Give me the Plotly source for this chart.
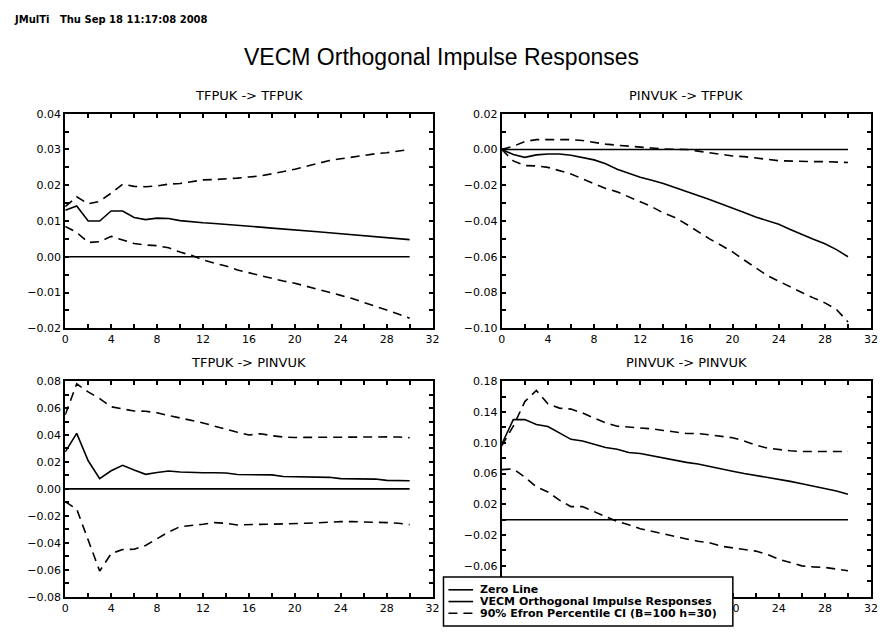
import plotly.graph_objects as go

# Forecast horizons
horizon = list(range(31))

# TFPUK -> TFPUK
tt_irf = [0.0130, 0.0142, 0.0100, 0.0100, 0.0128, 0.0128, 0.0110, 0.0104, 0.0108, 0.0107,
          0.0101, 0.0097, 0.0095, 0.0093, 0.0091, 0.0089, 0.0086, 0.0083, 0.0080, 0.0078,
          0.0075, 0.0072, 0.0070, 0.0067, 0.0064, 0.0061, 0.0059, 0.0056, 0.0054, 0.0051, 0.0048]
tt_upper = [0.0140, 0.0168, 0.0148, 0.0155, 0.0178, 0.0203, 0.0197, 0.0196, 0.0198, 0.0203,
            0.0205, 0.0210, 0.0215, 0.0216, 0.0217, 0.0220, 0.0223, 0.0226, 0.0232, 0.0238,
            0.0245, 0.0253, 0.0262, 0.0269, 0.0274, 0.0279, 0.0284, 0.0288, 0.0291, 0.0295, 0.0300]
tt_lower = [0.0085, 0.0068, 0.0040, 0.0042, 0.0057, 0.0046, 0.0037, 0.0033, 0.0031, 0.0025,
            0.0013, 0.0004, -0.0009, -0.0018, -0.0026, -0.0037, -0.0045, -0.0053, -0.0062, -0.0068,
            -0.0074, -0.0082, -0.0090, -0.0100, -0.0108, -0.0117, -0.0127, -0.0138, -0.0149, -0.0160, -0.0172]

# PINVUK -> TFPUK
pt_irf = [0.0, -0.0028, -0.0044, -0.0030, -0.0025, -0.0025, -0.0032, -0.0045, -0.0058, -0.0080,
          -0.0110, -0.0133, -0.0155, -0.0172, -0.0190, -0.0213, -0.0237, -0.0258, -0.0280, -0.0303,
          -0.0327, -0.0353, -0.0378, -0.0398, -0.0418, -0.0447, -0.0476, -0.0502, -0.0527, -0.0560, -0.0600]
pt_upper = [0.0, 0.0018, 0.0045, 0.0055, 0.0055, 0.0055, 0.0055, 0.0050, 0.0038, 0.0030,
            0.0024, 0.0018, 0.0010, 0.0008, 0.0003, 0.0000, 0.0000, -0.0009, -0.0018, -0.0028,
            -0.0036, -0.0040, -0.0046, -0.0055, -0.0063, -0.0066, -0.0068, -0.0068, -0.0068, -0.0070, -0.0073]
pt_lower = [0.0, -0.0064, -0.0090, -0.0092, -0.0100, -0.0118, -0.0137, -0.0164, -0.0190, -0.0218,
            -0.0237, -0.0265, -0.0290, -0.0320, -0.0355, -0.0380, -0.0418, -0.0460, -0.0500, -0.0536,
            -0.0573, -0.0618, -0.0660, -0.0705, -0.0737, -0.0770, -0.0800, -0.0830, -0.0858, -0.0895, -0.0965]

# TFPUK -> PINVUK
tp_irf = [0.0275, 0.0412, 0.0209, 0.0076, 0.0135, 0.0175, 0.0140, 0.0108, 0.0122, 0.0133,
          0.0125, 0.0121, 0.0120, 0.0120, 0.0118, 0.0107, 0.0106, 0.0105, 0.0104, 0.0092,
          0.0091, 0.0090, 0.0089, 0.0086, 0.0076, 0.0075, 0.0074, 0.0073, 0.0063, 0.0062, 0.0061]
tp_upper = [0.0550, 0.0780, 0.0720, 0.0670, 0.0610, 0.0592, 0.0578, 0.0577, 0.0565, 0.0545,
            0.0528, 0.0508, 0.0490, 0.0466, 0.0442, 0.0420, 0.0400, 0.0410, 0.0395, 0.0385,
            0.0382, 0.0383, 0.0384, 0.0385, 0.0386, 0.0386, 0.0386, 0.0386, 0.0386, 0.0385, 0.0380]
tp_lower = [-0.0095, -0.0150, -0.0380, -0.0610, -0.0480, -0.0450, -0.0448, -0.0420, -0.0370, -0.0320,
            -0.0280, -0.0272, -0.0262, -0.0250, -0.0255, -0.0268, -0.0264, -0.0263, -0.0262, -0.0261,
            -0.0258, -0.0255, -0.0252, -0.0245, -0.0243, -0.0243, -0.0244, -0.0245, -0.0250, -0.0255, -0.0265]

# PINVUK -> PINVUK
pp_irf = [0.0980, 0.1300, 0.1300, 0.1236, 0.1210, 0.1130, 0.1044, 0.1023, 0.0980, 0.0937,
          0.0916, 0.0873, 0.0860, 0.0830, 0.0797, 0.0767, 0.0745, 0.0724, 0.0690, 0.0660,
          0.0630, 0.0600, 0.0575, 0.0553, 0.0523, 0.0498, 0.0468, 0.0438, 0.0404, 0.0374, 0.0331]
pp_upper = [0.0960, 0.1215, 0.1535, 0.1680, 0.1505, 0.1450, 0.1437, 0.1386, 0.1320, 0.1258,
            0.1215, 0.1206, 0.1194, 0.1180, 0.1160, 0.1138, 0.1120, 0.1120, 0.1100, 0.1078,
            0.1065, 0.1023, 0.0970, 0.0930, 0.0910, 0.0895, 0.0886, 0.0886, 0.0886, 0.0886, 0.0886]
pp_lower = [0.0650, 0.0660, 0.0553, 0.0425, 0.0360, 0.0254, 0.0170, 0.0170, 0.0105, 0.0041,
            -0.0023, -0.0066, -0.0117, -0.0150, -0.0186, -0.0215, -0.0250, -0.0280, -0.0300, -0.0344,
            -0.0365, -0.0386, -0.0408, -0.0450, -0.0514, -0.0557, -0.0600, -0.0613, -0.0620, -0.0642, -0.0664]

zero_line = [0.0] * 31

panel_titles = ["TFPUK -> TFPUK", "PINVUK -> TFPUK", "TFPUK -> PINVUK", "PINVUK -> PINVUK"]
legend_names = ["Zero Line", "VECM Orthogonal Impulse Responses",
                "90% Efron Percentile CI (B=100 h=30)"]

panels = [
    (tt_irf, tt_upper, tt_lower, dict(range=[-0.02, 0.04], tick0=0, dtick=0.01, minor_dtick=0.005)),
    (pt_irf, pt_upper, pt_lower, dict(range=[-0.10, 0.02], tick0=0, dtick=0.02, minor_dtick=0.01)),
    (tp_irf, tp_upper, tp_lower, dict(range=[-0.08, 0.08], tick0=0, dtick=0.02, minor_dtick=0.01)),
    (pp_irf, pp_upper, pp_lower, dict(range=[-0.10, 0.18], tick0=0.02, dtick=0.04, minor_dtick=0.02)),
]

W, H = 886, 635
# panel frames in pixels: (left, right, top, bottom)
frames = [(62, 434, 110, 329), (504, 878, 110, 329),
          (62, 434, 383, 603), (504, 878, 383, 603)]

FONT = "DejaVu Sans"
SOLID = dict(color="black", width=1.6)
DASHED = dict(color="black", width=1.6, dash="9px,6px")


def px(x):
    return x / W


def py(y):
    return 1 - y / H


fig = go.Figure()
layout_axes = {}
annotations = []
shapes = []

for i, ((irf, up, lo, yspec), (l, r, t, b)) in enumerate(zip(panels, frames)):
    n = i + 1
    xa = "x" if n == 1 else f"x{n}"
    ya = "y" if n == 1 else f"y{n}"
    fig.add_trace(go.Scatter(x=horizon, y=zero_line, mode="lines", xaxis=xa, yaxis=ya,
                             line=SOLID, name=legend_names[0], showlegend=False))
    fig.add_trace(go.Scatter(x=horizon, y=irf, mode="lines", xaxis=xa, yaxis=ya,
                             line=SOLID, name=legend_names[1], showlegend=False))
    fig.add_trace(go.Scatter(x=horizon, y=up, mode="lines", xaxis=xa, yaxis=ya,
                             line=DASHED, name=legend_names[2], showlegend=False))
    fig.add_trace(go.Scatter(x=horizon, y=lo, mode="lines", xaxis=xa, yaxis=ya,
                             line=DASHED, name=legend_names[2], showlegend=False))

    common = dict(showline=True, linecolor="black", linewidth=2, mirror="ticks",
                  ticks="inside", ticklen=4, tickwidth=1.5, tickcolor="black",
                  showgrid=False, zeroline=False,
                  tickfont=dict(family=FONT, size=11, color="black"))
    layout_axes["xaxis" if n == 1 else f"xaxis{n}"] = dict(
        domain=[px(l), px(r)], anchor=ya, range=[0, 32], tick0=0, dtick=4,
        minor=dict(dtick=2, ticks="inside", ticklen=4, tickwidth=1.5, tickcolor="black"),
        **common)
    layout_axes["yaxis" if n == 1 else f"yaxis{n}"] = dict(
        domain=[py(b), py(t)], anchor=xa, range=yspec["range"],
        tick0=yspec["tick0"], dtick=yspec["dtick"], tickformat=".2f",
        minor=dict(dtick=yspec["minor_dtick"], ticks="inside", ticklen=4, tickwidth=1.5,
                   tickcolor="black"),
        **common)
    annotations.append(dict(text=panel_titles[i], xref="paper", yref="paper",
                            x=px((l + r) / 2), y=py(t - 19), xanchor="center",
                            yanchor="middle", showarrow=False,
                            font=dict(family=FONT, size=13, color="black")))

annotations.append(dict(text="VECM Orthogonal Impulse Responses", xref="paper", yref="paper",
                        x=px(443), y=py(52), xanchor="center", yanchor="middle",
                        showarrow=False,
                        font=dict(family="Liberation Sans", size=23, color="black")))
annotations.append(dict(text="<b>JMulTi   Thu Sep 18 11:17:08 2008</b>", xref="paper",
                        yref="paper", x=px(8), y=py(14), xanchor="left",
                        yanchor="middle", showarrow=False,
                        font=dict(family=FONT, size=10, color="black")))

# Legend box in the lower right, drawn over the last panel
shapes.append(dict(type="rect", xref="paper", yref="paper", x0=px(445), x1=px(738),
                   y0=py(633), y1=py(583), fillcolor="white",
                   line=dict(color="black", width=1.5), layer="above"))
legend_rows = [(596, SOLID), (608, SOLID), (620, DASHED)]
for name, (row_y, style) in zip(legend_names, legend_rows):
    shapes.append(dict(type="line", xref="paper", yref="paper", x0=px(450), x1=px(475),
                       y0=py(row_y), y1=py(row_y), line=style, layer="above"))
    annotations.append(dict(text=f"<b>{name}</b>", xref="paper", yref="paper",
                            x=px(480), y=py(row_y), xanchor="left", yanchor="middle",
                            showarrow=False,
                            font=dict(family=FONT, size=11, color="black")))

fig.update_layout(
    width=W, height=H, margin=dict(l=0, r=0, t=0, b=0),
    paper_bgcolor="white", plot_bgcolor="white",
    showlegend=False,
    annotations=annotations, shapes=shapes,
    **layout_axes,
)

fig.write_html("out.html")
